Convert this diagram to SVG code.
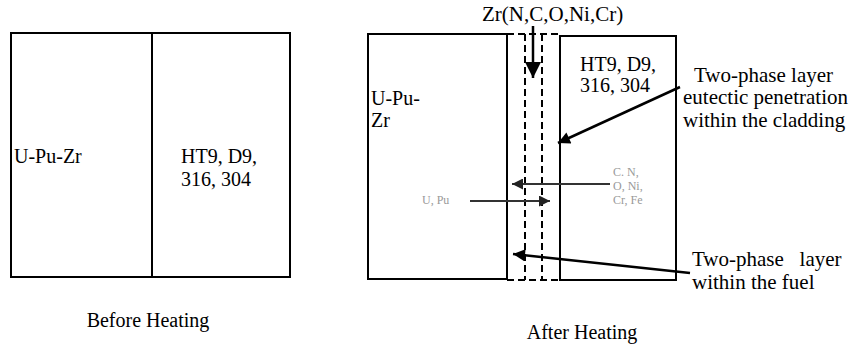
<svg xmlns="http://www.w3.org/2000/svg" width="862" height="345" viewBox="0 0 862 345" font-family="'Liberation Serif', 'DejaVu Serif', serif">
<style>
text{font-family:'Liberation Serif','DejaVu Serif',serif;font-size:20px;fill:#000}
.lbl{font-size:21px}
.box{fill:none;stroke:#000;stroke-width:2}
.dash{fill:none;stroke:#000;stroke-width:2;stroke-dasharray:7 4}
.arr{fill:none;stroke:#000;stroke-width:2.5}
.garr{fill:none;stroke:#333;stroke-width:2}
.small{font-size:12px;fill:#999}
</style>
<defs>
<marker id="ah" viewBox="0 0 10 10" refX="10" refY="5" markerUnits="userSpaceOnUse" markerWidth="16" markerHeight="12" orient="auto"><path d="M0,0 L10,5 L0,10 z" fill="#000"/></marker>
<marker id="ahg" viewBox="0 0 10 10" refX="10" refY="5" markerUnits="userSpaceOnUse" markerWidth="15" markerHeight="11" orient="auto"><path d="M0,0 L10,5 L0,10 z" fill="#222"/></marker>
<marker id="ahBig" viewBox="0 0 10 10" refX="10" refY="5" markerUnits="userSpaceOnUse" markerWidth="16" markerHeight="18" orient="auto"><path d="M0,0 L10,5 L0,10 z" fill="#000"/></marker>
</defs>

<g id="before-fuel">
<rect class="box" x="11" y="33" width="141" height="244"/>
<text x="14" y="163">U-Pu-Zr</text>
</g>
<g id="before-cladding">
<rect class="box" x="152" y="33" width="138" height="244"/>
<text x="181" y="163">HT9, D9,</text>
<text x="181" y="186">316, 304</text>
</g>
<text x="148" y="327" text-anchor="middle">Before Heating</text>

<g id="after-fuel">
<rect class="box" x="368" y="34" width="139" height="245"/>
<text x="371" y="105">U-Pu-</text>
<text x="371" y="127">Zr</text>
</g>
<g id="after-cladding">
<rect class="box" x="560" y="36" width="116" height="244"/>
<text x="580" y="71">HT9, D9,</text>
<text x="580" y="92">316, 304</text>
</g>
<g id="interaction-zone">
<path class="dash" d="M507,34 H558 M525,34 V280 M542,34 V280 M507,280 H560"/>
</g>
<text class="lbl" x="482" y="21">Zr(N,C,O,Ni,Cr)</text>
<text class="small" x="613" y="176">C. N,</text>
<text class="small" x="613" y="190">O, Ni,</text>
<text class="small" x="613" y="204">Cr, Fe</text>
<text class="small" x="422" y="204">U, Pu</text>
<text class="lbl" x="694" y="82">Two-phase layer</text>
<text class="lbl" x="683" y="104">eutectic penetration</text>
<text class="lbl" x="683" y="127">within the cladding</text>
<text class="lbl" x="692" y="266" xml:space="preserve">Two-phase   layer</text>
<text class="lbl" x="692" y="289">within the fuel</text>
<text x="582" y="339" text-anchor="middle">After Heating</text>

<g id="connectors">
<line class="arr" x1="533" y1="26" x2="533" y2="78" marker-end="url(#ahBig)"/>
<line class="garr" x1="610" y1="184" x2="512" y2="184" marker-end="url(#ahg)"/>
<line class="garr" x1="470" y1="201" x2="550" y2="201" marker-end="url(#ahg)"/>
<line class="arr" x1="680" y1="87" x2="558" y2="143" marker-end="url(#ah)"/>
<line class="arr" x1="690" y1="273" x2="513" y2="254" marker-end="url(#ah)"/>
</g>
</svg>
